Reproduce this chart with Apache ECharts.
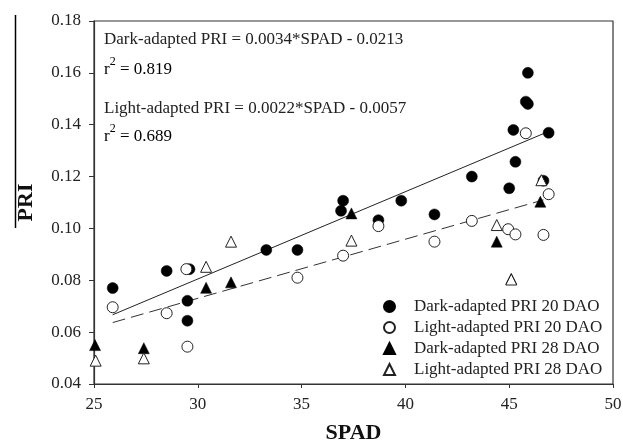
<!DOCTYPE html>
<html>
<head>
<meta charset="utf-8">
<script src="https://cdn.jsdelivr.net/npm/echarts@6/dist/echarts.min.js"></script>
<style>
html,body{margin:0;padding:0;background:#fff;}
#chart{width:623px;height:443px;}
</style>
</head>
<body>
<div id="chart"></div>
<script>
// ---- data ----
const seriesNames = ['Dark-adapted PRI 20 DAO','Light-adapted PRI 20 DAO','Dark-adapted PRI 28 DAO','Light-adapted PRI 28 DAO'];

const spadDark20 = [25.9, 28.5, 29.5, 29.5, 29.6, 33.3, 34.8, 36.9, 37.0, 38.7, 39.8, 41.4, 43.2, 45.0, 45.2, 45.3, 45.8, 45.9, 45.9, 46.65, 46.9];
const priDark20  = [0.077, 0.0836, 0.0721, 0.0644, 0.0843, 0.0917, 0.0917, 0.1068, 0.1107, 0.1032, 0.1107, 0.1054, 0.120, 0.1155, 0.138, 0.1257, 0.1489, 0.148, 0.160, 0.1184, 0.1369];

const spadLight20 = [25.9, 28.5, 29.45, 29.5, 34.8, 37.0, 38.7, 41.4, 43.2, 44.95, 45.3, 45.8, 46.65, 46.9];
const priLight20  = [0.0696, 0.0673, 0.0843, 0.0544, 0.081, 0.0895, 0.1009, 0.0949, 0.1029, 0.0997, 0.0977, 0.1367, 0.0975, 0.1132];

const spadDark28 = [25.05, 27.4, 30.4, 31.6, 37.4, 44.4, 45.1, 46.5];
const priDark28  = [0.055, 0.0538, 0.0771, 0.0792, 0.1058, 0.0949, 0.0806, 0.1103];

const spadLight28 = [25.08, 27.4, 30.4, 31.6, 37.4, 44.4, 45.1, 46.55];
const priLight28  = [0.049, 0.0499, 0.0852, 0.0949, 0.0953, 0.1013, 0.0803, 0.1186];

// regression line end points
const darkFitX = [25.9, 46.9];
const darkFitY = [0.0667, 0.1374];
const lightFitX = [25.9, 46.65];
const lightFitY = [0.0637, 0.1110];

const xTicks = {min: 25, max: 50, interval: 5};
const yTicks = {min: 0.04, max: 0.18, interval: 0.02};

const annotations = [
  'Dark-adapted PRI = 0.0034*SPAD - 0.0213',
  '0.819',
  'Light-adapted PRI = 0.0022*SPAD - 0.0057',
  '0.689'
];

function pairs(xs, ys){ return xs.map((x,i)=>[x, ys[i]]); }

const FONT = '"Liberation Serif", "Times New Roman", serif';

const chart = echarts.init(document.getElementById('chart'));
const option = {
  backgroundColor: '#fff',
  animation: false,
  textStyle: {fontFamily: FONT},
  grid: {left: 94, right: 10, top: 21, bottom: 59, show: true, borderColor: '#333', borderWidth: 1.2,
         containLabel: false, outerBoundsMode: 'none'},
  xAxis: {
    type: 'value', min: xTicks.min, max: xTicks.max, interval: xTicks.interval,
    name: 'SPAD', nameLocation: 'middle', nameGap: 38,
    nameTextStyle: {fontFamily: FONT, fontSize: 22, fontWeight: 'bold', color: '#111'},
    axisLine: {lineStyle: {color: '#333', width: 1.2}},
    axisTick: {show: true, length: 4, lineStyle: {color: '#333'}},
    axisLabel: {fontFamily: FONT, fontSize: 17, color: '#222', margin: 12},
    splitLine: {show: false}
  },
  yAxis: {
    type: 'value', min: yTicks.min, max: yTicks.max, interval: yTicks.interval,
    name: 'PRI', nameLocation: 'middle', nameGap: 57,
    nameTextStyle: {fontFamily: FONT, fontSize: 22, fontWeight: 'bold', color: '#111'},
    axisLine: {lineStyle: {color: '#333', width: 1.2}},
    axisTick: {show: true, length: 5, lineStyle: {color: '#333'}},
    axisLabel: {fontFamily: FONT, fontSize: 17, color: '#222', margin: 13, formatter: v => v.toFixed(2)},
    splitLine: {show: false}
  },
  legend: {
    data: seriesNames,
    orient: 'vertical', left: 378, top: 293,
    itemWidth: 11, itemHeight: 11, itemGap: 4,
    textStyle: {fontFamily: FONT, fontSize: 17, color: '#222', lineHeight: 17, padding: [0,0,0,14]}
  },
  graphic: [
    {type: 'line', shape: {x1: 15.5, y1: 15, x2: 15.5, y2: 228}, style: {stroke: '#000', lineWidth: 1.5}},
    {type: 'text', left: 104, top: 31, style: {text: annotations[0], font: '17px ' + FONT, fill: '#222'}},
    {type: 'text', left: 104, top: 56, style: {
      text: '{b|r}{s|2}{b| = ' + annotations[1] + '}',
      rich: {b: {fontFamily: FONT, fontSize: 17, color: '#222', verticalAlign: 'bottom', lineHeight: 22},
             s: {fontFamily: FONT, fontSize: 12, color: '#222', verticalAlign: 'top', lineHeight: 22}}
    }},
    {type: 'text', left: 104, top: 100, style: {text: annotations[2], font: '17px ' + FONT, fill: '#222'}},
    {type: 'text', left: 104, top: 123, style: {
      text: '{b|r}{s|2}{b| = ' + annotations[3] + '}',
      rich: {b: {fontFamily: FONT, fontSize: 17, color: '#222', verticalAlign: 'bottom', lineHeight: 22},
             s: {fontFamily: FONT, fontSize: 12, color: '#222', verticalAlign: 'top', lineHeight: 22}}
    }}
  ],
  series: [
    {name: 'darkFit', type: 'line', data: pairs(darkFitX, darkFitY), symbol: 'none', silent: true,
     lineStyle: {color: '#222', width: 1}, z: 1},
    {name: 'lightFit', type: 'line', data: pairs(lightFitX, lightFitY), symbol: 'none', silent: true,
     lineStyle: {color: '#333', width: 1, type: [13, 6]}, z: 1},
    {name: seriesNames[0], type: 'scatter', data: pairs(spadDark20, priDark20), symbol: 'circle', symbolSize: 11,
     itemStyle: {color: '#000', borderColor: '#000', borderWidth: 0.5, opacity: 1}, z: 3},
    {name: seriesNames[1], type: 'scatter', data: pairs(spadLight20, priLight20), symbol: 'circle', symbolSize: 11,
     itemStyle: {color: '#fff', borderColor: '#222', borderWidth: 1, opacity: 1}, z: 4},
    {name: seriesNames[2], type: 'scatter', data: pairs(spadDark28, priDark28), symbol: 'triangle', symbolSize: 11,
     itemStyle: {color: '#000', borderColor: '#000', borderWidth: 0.5, opacity: 1}, z: 3},
    {name: seriesNames[3], type: 'scatter', data: pairs(spadLight28, priLight28), symbol: 'triangle', symbolSize: 11,
     itemStyle: {color: '#fff', borderColor: '#222', borderWidth: 1, opacity: 1}, z: 4}
  ]
};
chart.setOption(option);
</script>
</body>
</html>
